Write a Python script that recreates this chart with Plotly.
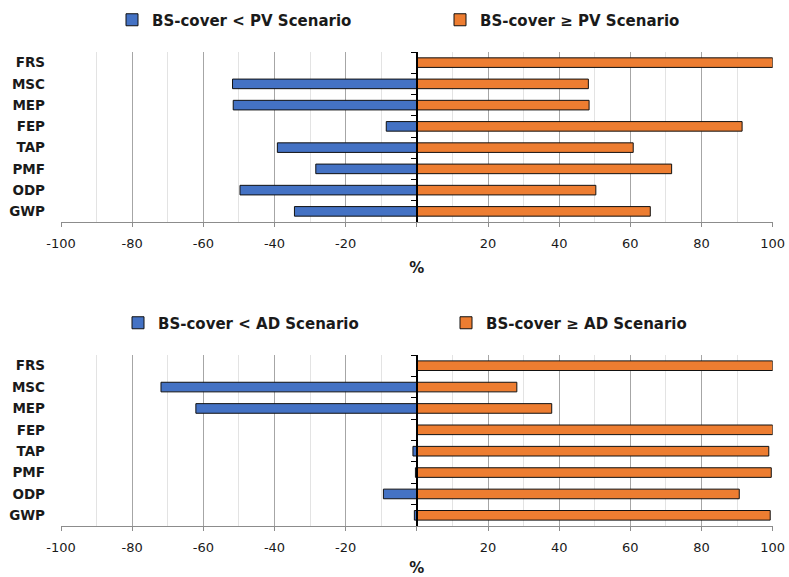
import plotly.graph_objects as go

# Impact categories, listed top to bottom
categories = ["FRS", "MSC", "MEP", "FEP", "TAP", "PMF", "ODP", "GWP"]

# Share (%) of results where the BS-cover option is worse / better than each scenario
pv_lower = [0.0, -51.8, -51.6, -8.6, -39.2, -28.4, -49.7, -34.4]
pv_higher = [100.0, 48.2, 48.4, 91.4, 60.8, 71.6, 50.3, 65.6]
ad_lower = [0.0, -71.9, -62.1, 0.0, -1.1, -0.4, -9.4, -0.7]
ad_higher = [100.0, 28.1, 37.9, 100.0, 98.9, 99.6, 90.6, 99.3]

pv_names = ["BS-cover < PV Scenario", "BS-cover \u2265 PV Scenario"]
ad_names = ["BS-cover < AD Scenario", "BS-cover \u2265 AD Scenario"]

x_ticks = [-100, -80, -60, -40, -20, 0, 20, 40, 60, 80, 100]
x_ticktext = ["-100", "-80", "-60", "-40", "-20", "", "20", "40", "60", "80", "100"]

BLUE = "#4472C4"
ORANGE = "#ED7D31"
FONT = "DejaVu Sans"
TXT = "#1A1A1A"

W, H = 789, 577
x_dom = [61 / W, 772.7 / W]
zero_pos = 416.7 / W
top_dom = [1 - 222 / H, 1 - 52 / H]
bot_dom = [1 - 526 / H, 1 - 355 / H]

fig = go.Figure()

panels = [
    ("x", "y", "y3", "legend", pv_lower, pv_higher, pv_names),
    ("x2", "y2", "y4", "legend2", ad_lower, ad_higher, ad_names),
]
for xa, ya, ya_ticks, leg, neg, pos, names in panels:
    for vals, color, name in ((neg, BLUE, names[0]), (pos, ORANGE, names[1])):
        fig.add_trace(go.Bar(
            y=categories, x=vals, orientation="h", name=name,
            marker=dict(color=color, line=dict(color="#111111", width=1)),
            xaxis=xa, yaxis=ya, legend=leg, width=0.45,
        ))
    # invisible carrier so the zero-line axis gets its category ticks
    fig.add_trace(go.Scatter(
        y=categories, x=[0] * len(categories), mode="markers",
        marker=dict(opacity=0), showlegend=False, hoverinfo="skip",
        xaxis=xa, yaxis=ya_ticks,
    ))

x_common = dict(
    range=[-100, 100], tickvals=x_ticks, ticktext=x_ticktext,
    showgrid=True, gridcolor="#A6A6A6", gridwidth=1,
    minor=dict(dtick=10, tick0=0, showgrid=True, gridcolor="#E3E3E3", gridwidth=1),
    zeroline=False, showline=True, linecolor="#8C8C8C", linewidth=1,
    ticks="outside", ticklen=4, tickcolor="#8C8C8C", ticklabelstandoff=5,
    tickfont=dict(family=FONT, size=13, color=TXT),
    title=dict(text="<b>%</b>", font=dict(family=FONT, size=15, color=TXT), standoff=12),
    domain=x_dom, fixedrange=True,
)
y_common = dict(
    type="category", categoryarray=categories, categoryorder="array",
    range=[7.5, -0.5], showgrid=False, zeroline=False, showline=False, ticks="",
    tickfont=dict(family=FONT, size=13.5, color=TXT), ticklabelstandoff=15,
    tickvals=categories, ticktext=[f"<b>{c}</b>" for c in categories],
)
y_zero = dict(
    type="category", categoryarray=categories, categoryorder="array",
    range=[7.5, -0.5], showgrid=False, zeroline=False, showline=True,
    linecolor="#000000", linewidth=1.5, ticks="outside", ticklen=5,
    tickcolor="#000000", tickson="boundaries", showticklabels=False,
    anchor="free", position=zero_pos,
)
legend_font = dict(family=FONT, size=15, color=TXT, weight="bold")

fig.update_layout(
    width=W, height=H, margin=dict(l=0, r=0, t=0, b=0, autoexpand=False),
    paper_bgcolor="white", plot_bgcolor="white",
    barmode="relative", bargap=0.55, showlegend=True,
    font=dict(family=FONT, color=TXT),
    xaxis=dict(**x_common, anchor="y"),
    xaxis2=dict(**x_common, anchor="y2"),
    yaxis=dict(**y_common, domain=top_dom, anchor="x"),
    yaxis2=dict(**y_common, domain=bot_dom, anchor="x2"),
    yaxis3=dict(**y_zero, overlaying="y"),
    yaxis4=dict(**y_zero, overlaying="y2"),
    legend=dict(orientation="h", x=112 / W, xanchor="left", y=1 - 20 / H, yanchor="middle",
                entrywidth=283, font=legend_font, bgcolor="rgba(0,0,0,0)"),
    legend2=dict(orientation="h", x=118 / W, xanchor="left", y=1 - 323 / H, yanchor="middle",
                 entrywidth=283, font=legend_font, bgcolor="rgba(0,0,0,0)"),
)

fig.write_html("out.html")
